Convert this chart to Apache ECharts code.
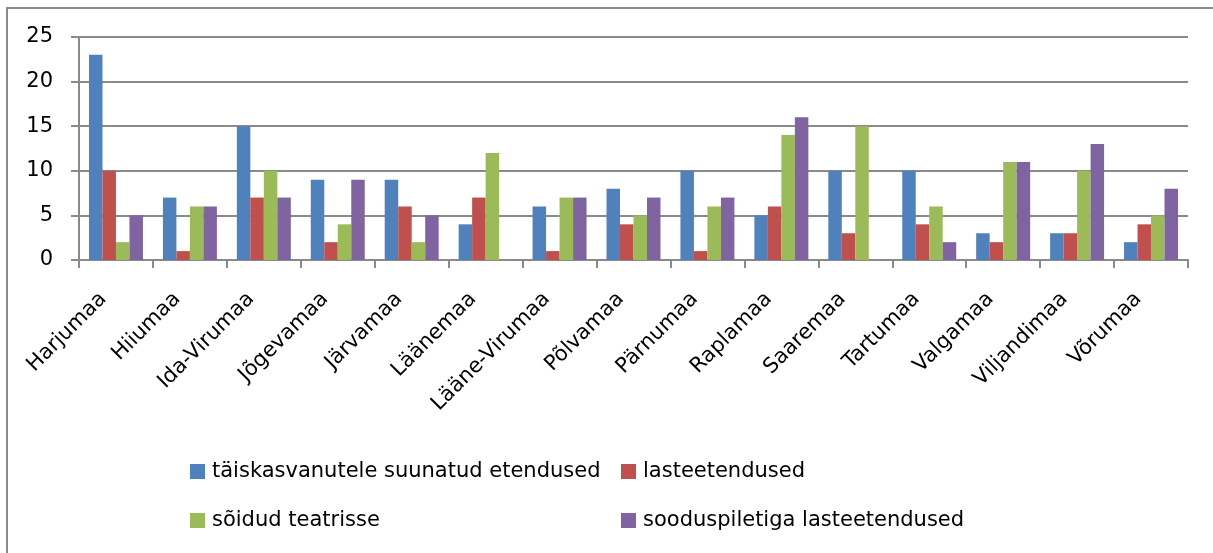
<!DOCTYPE html>
<html>
<head>
<meta charset="utf-8">
<script src="https://cdn.jsdelivr.net/npm/echarts@6/dist/echarts.min.js"></script>
<style>
html,body{margin:0;padding:0;background:#fff;}
#c{width:1213px;height:553px;}
</style>
</head>
<body>
<div id="c"></div>
<script>
const categories = ['Harjumaa','Hiiumaa','Ida-Virumaa','Jõgevamaa','Järvamaa','Läänemaa','Lääne-Virumaa','Põlvamaa','Pärnumaa','Raplamaa','Saaremaa','Tartumaa','Valgamaa','Viljandimaa','Võrumaa'];
const seriesNames = ['täiskasvanutele suunatud etendused','lasteetendused','sõidud teatrisse','sooduspiletiga lasteetendused'];
const adults   = [23,7,15,9,9,4,6,8,10,5,10,10,3,3,2];
const kids     = [10,1,7,2,6,7,1,4,1,6,3,4,2,3,4];
const trips    = [2,6,10,4,2,12,7,5,6,14,15,6,11,10,5];
const discount = [5,6,7,9,5,0,7,7,7,16,0,2,11,13,8];
const yTicks = [0,5,10,15,20,25];

const colors = ['#4F81BD','#C0504D','#9BBB59','#8064A2'];
const values = [adults, kids, trips, discount];
const font = '"DejaVu Sans", sans-serif';
const gridColor = '#8a8a8a';

const chart = echarts.init(document.getElementById('c'), null, {renderer:'canvas'});
const legendPos = [
  {left:190, top:461},
  {left:621, top:461},
  {left:190, top:510},
  {left:621, top:510}
];
chart.setOption({
  animation:false,
  backgroundColor:'#fff',
  color: colors,
  graphic:[{
    type:'rect', shape:{x:7,y:8,width:1400,height:700},
    style:{fill:'none', stroke:gridColor, lineWidth:2}, z:-1
  }],
  grid:{left:79, right:25, top:37, bottom:293},
  legend: legendPos.map((p,i)=>({
    data:[seriesNames[i]], left:p.left, top:p.top, orient:'horizontal',
    itemWidth:15, itemHeight:15, itemGap:5, icon:'rect',
    textStyle:{fontSize:21, color:'#000', fontFamily:font, padding:[0,0,0,2]}, padding:0
  })),
  xAxis:{
    type:'category', data:categories,
    axisLine:{show:true, lineStyle:{color:gridColor, width:2}},
    axisTick:{show:true, length:8, lineStyle:{color:gridColor, width:2}},
    axisLabel:{rotate:45, fontSize:21, color:'#000', fontFamily:font, margin:23, padding:[0,18,0,0], interval:0}
  },
  yAxis:{
    type:'value', min:yTicks[0], max:yTicks[yTicks.length-1], interval:5,
    axisLine:{show:true, lineStyle:{color:gridColor, width:2}},
    axisTick:{show:true, length:8, lineStyle:{color:gridColor, width:2}},
    splitLine:{show:true, lineStyle:{color:gridColor, width:2}},
    axisLabel:{fontSize:21, color:'#000', fontFamily:font, margin:26}
  },
  series: seriesNames.map((n,i)=>({
    name:n, type:'bar', data:values[i],
    barGap:'0%', barCategoryGap:'27%',
    itemStyle:{color:colors[i]}
  }))
});
</script>
</body>
</html>
